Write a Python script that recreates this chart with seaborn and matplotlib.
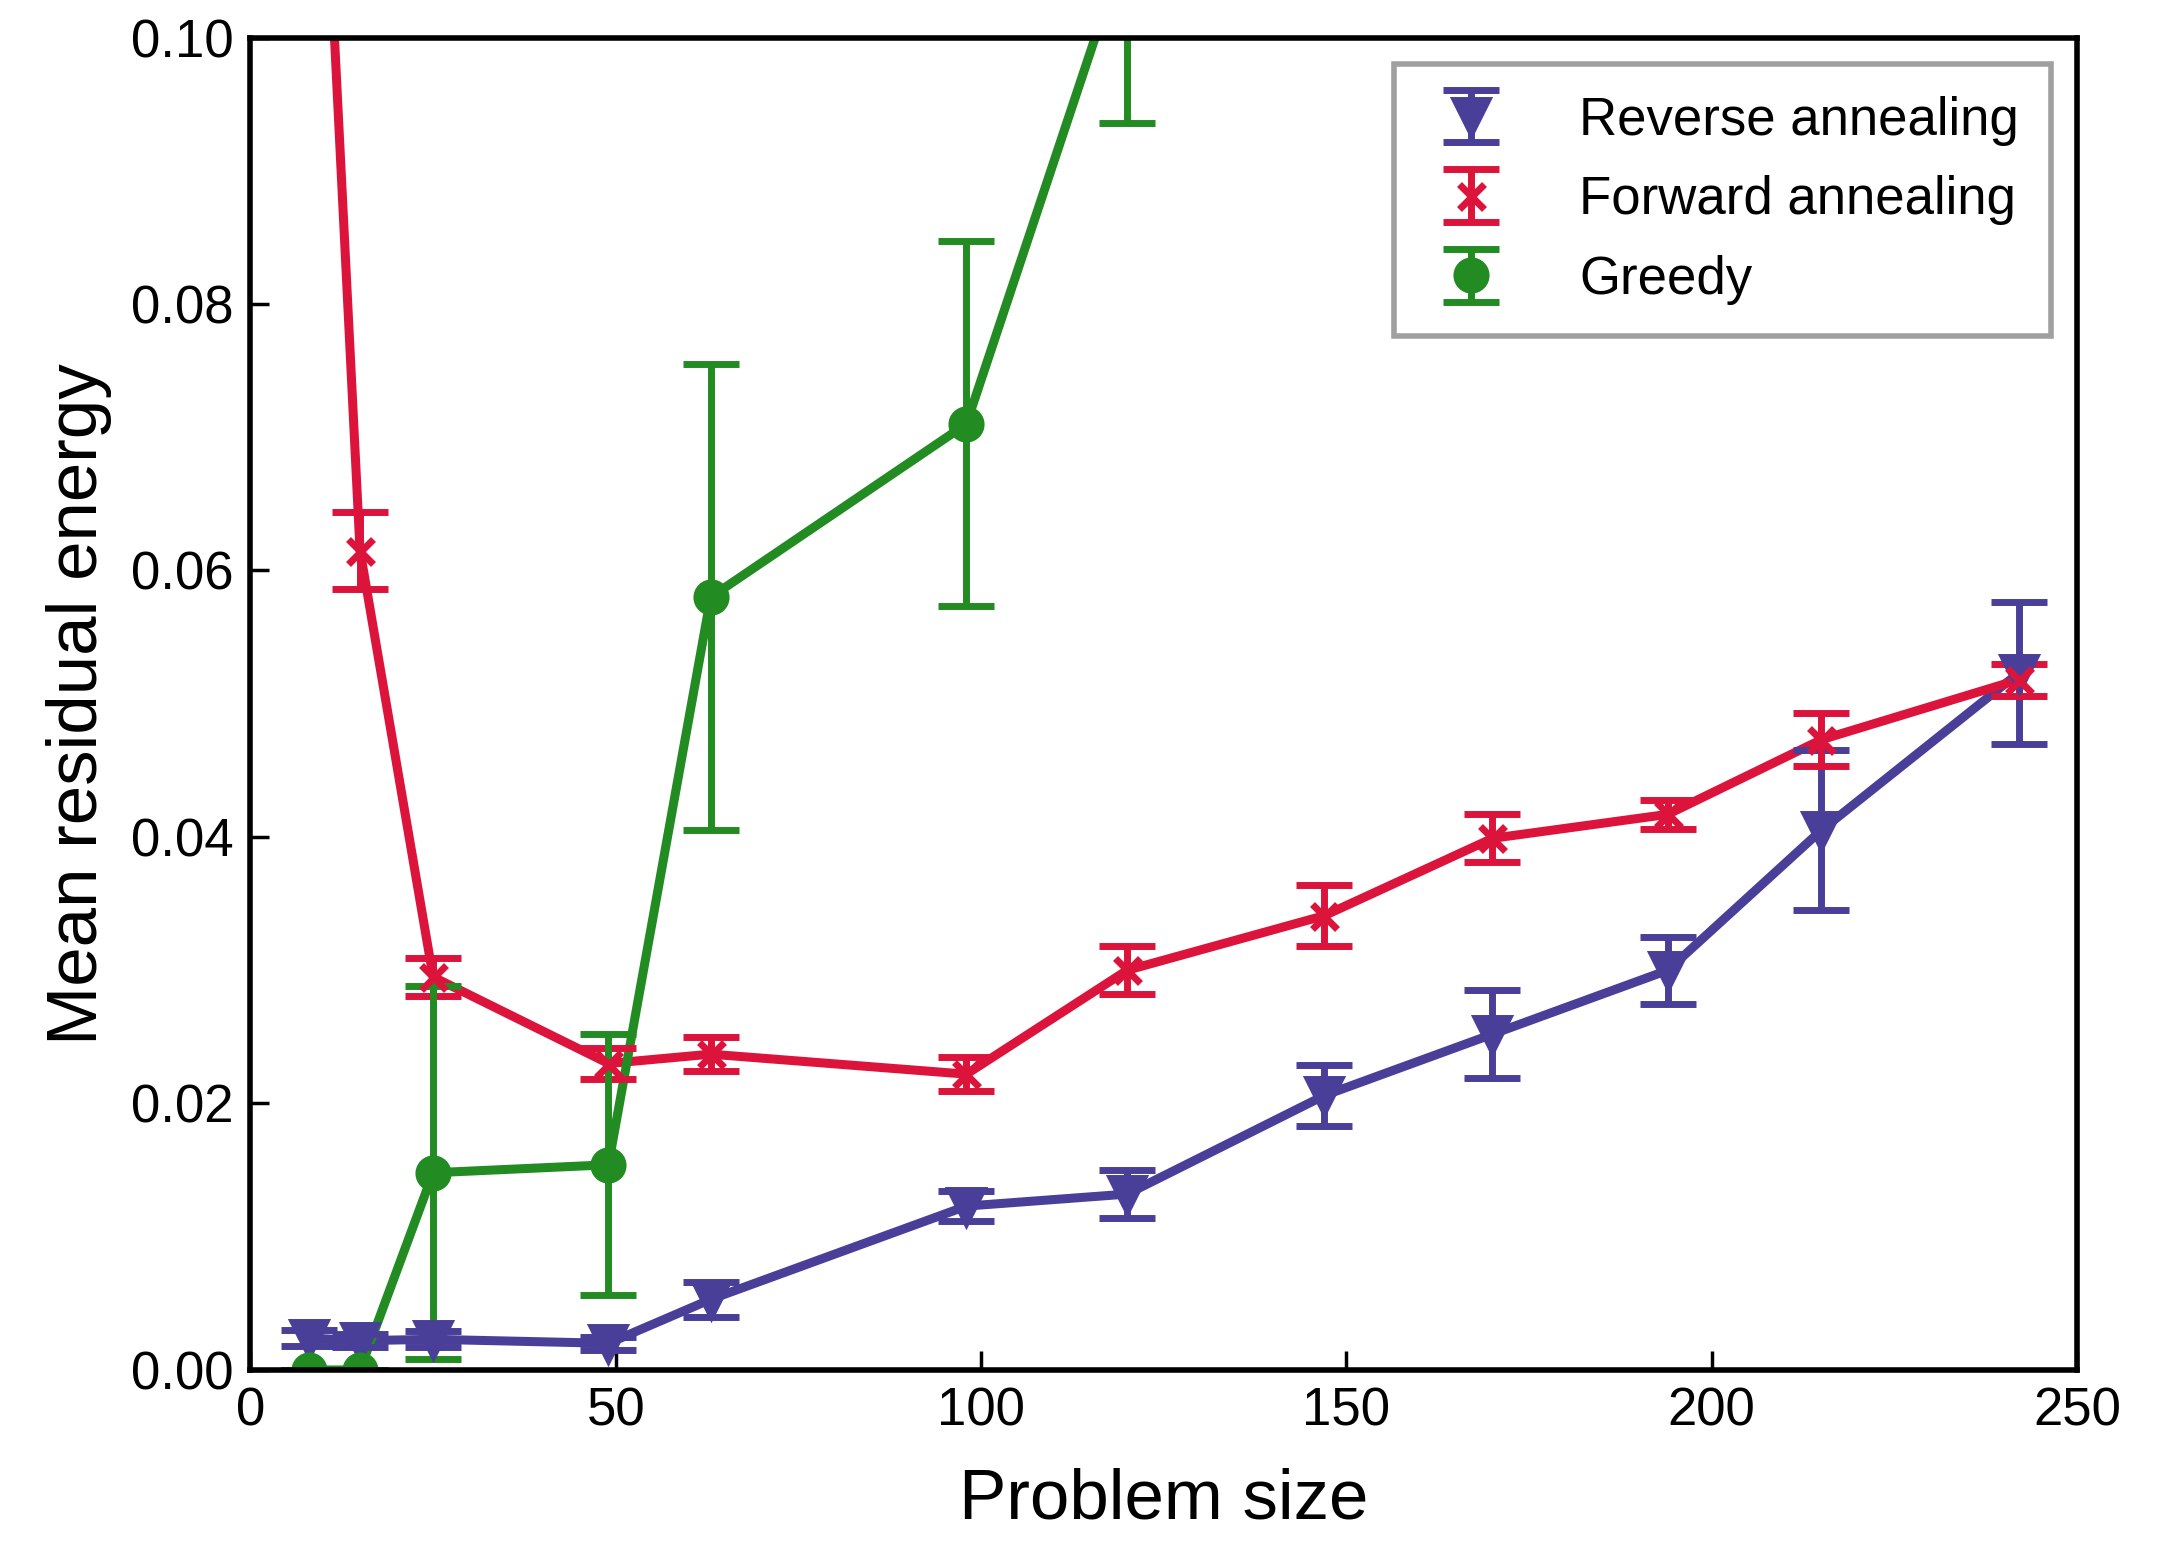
import numpy as np
import pandas as pd
import seaborn as sns
import matplotlib
matplotlib.use("Agg")
import matplotlib.pyplot as plt

# values
rev_x = [8, 15, 25, 49, 63, 98, 120, 147, 170, 194, 215, 242]
rev_y = [0.0024, 0.0022, 0.0023, 0.0020, 0.0053, 0.0123, 0.0132, 0.0206, 0.0252, 0.0300, 0.0405, 0.0523]
rev_err = [0.0006, 0.0005, 0.0006, 0.0005, 0.0013, 0.0011, 0.0018, 0.0023, 0.0033, 0.0025, 0.0060, 0.0053]

fwd_x = [8, 15, 25, 49, 63, 98, 120, 147, 170, 194, 215, 242]
fwd_y = [0.1385, 0.0615, 0.0295, 0.0230, 0.0237, 0.0222, 0.0300, 0.0341, 0.0399, 0.0417, 0.0473, 0.0518]
fwd_err = [0.0030, 0.0029, 0.0014, 0.0012, 0.0013, 0.0013, 0.0018, 0.0023, 0.0018, 0.0011, 0.0020, 0.0012]

gre_x = [8, 15, 25, 49, 63, 98, 120]
gre_y = [0.0, 0.0, 0.0148, 0.0154, 0.0580, 0.0710, 0.1072]
gre_err = [0.0, 0.0, 0.0140, 0.0098, 0.0175, 0.0137, 0.0136]

labels = ["Reverse annealing", "Forward annealing", "Greedy"]
colors = {"Reverse annealing": "#4a3f98", "Forward annealing": "#dc143c", "Greedy": "#228b22"}
markers = {"Reverse annealing": "v", "Forward annealing": "x", "Greedy": "o"}
msizes = {"Reverse annealing": 23, "Forward annealing": 18, "Greedy": 21}

series = {
    "Reverse annealing": (rev_x, rev_y, rev_err),
    "Forward annealing": (fwd_x, fwd_y, fwd_err),
    "Greedy": (gre_x, gre_y, gre_err),
}

rows = []
for name in labels:
    xs, ys, es = series[name]
    for x, y, e in zip(xs, ys, es):
        rows.append({"size": x, "energy": y, "err": e, "method": name})
df = pd.DataFrame(rows)

sns.set_style("ticks", {"axes.edgecolor": "black", "text.color": "black",
                        "xtick.color": "black", "ytick.color": "black",
                        "axes.labelcolor": "black"})
plt.rcParams["font.family"] = ["Liberation Sans", "DejaVu Sans"]

fig = plt.figure(figsize=(21.59, 15.63), dpi=100)
ax = fig.add_axes([0.116, 0.1235, 0.846, 0.8525])

sns.lineplot(data=df, x="size", y="energy", hue="method", hue_order=labels,
             palette=colors, linewidth=6.5, legend=False, ax=ax, sort=False)

handles = []
for name in labels:
    sub = df[df["method"] == name]
    h = ax.errorbar(sub["size"], sub["energy"], yerr=sub["err"], fmt=markers[name],
                    color=colors[name], ms=msizes[name], mew=5, elinewidth=5,
                    capsize=20, capthick=5, linestyle="none", label=name)
    handles.append(h)

ax.set_xlim(0, 250)
ax.set_ylim(0, 0.1)
ax.set_xticks([0, 50, 100, 150, 200, 250])
ax.set_yticks([0.0, 0.02, 0.04, 0.06, 0.08, 0.10])
ax.set_yticklabels(["0.00", "0.02", "0.04", "0.06", "0.08", "0.10"])
ax.set_xlabel("Problem size", fontsize=51, labelpad=22)
ax.set_ylabel("Mean residual energy", fontsize=51, labelpad=14)
ax.tick_params(axis="both", direction="in", length=14, width=2.5, labelsize=38, pad=12)
for sp in ax.spines.values():
    sp.set_linewidth(4)
    sp.set_color("black")

leg = ax.legend(handles=handles, labels=labels, loc="upper right", fontsize=38,
                frameon=True, fancybox=False, borderpad=0.6, handletextpad=1.2,
                handlelength=1.7, labelspacing=0.56, bbox_to_anchor=(1.0, 1.0),
                borderaxespad=0.5)
leg.get_frame().set_edgecolor("#888888")
leg.get_frame().set_linewidth(4)

fig.savefig("out.png", dpi=100)
